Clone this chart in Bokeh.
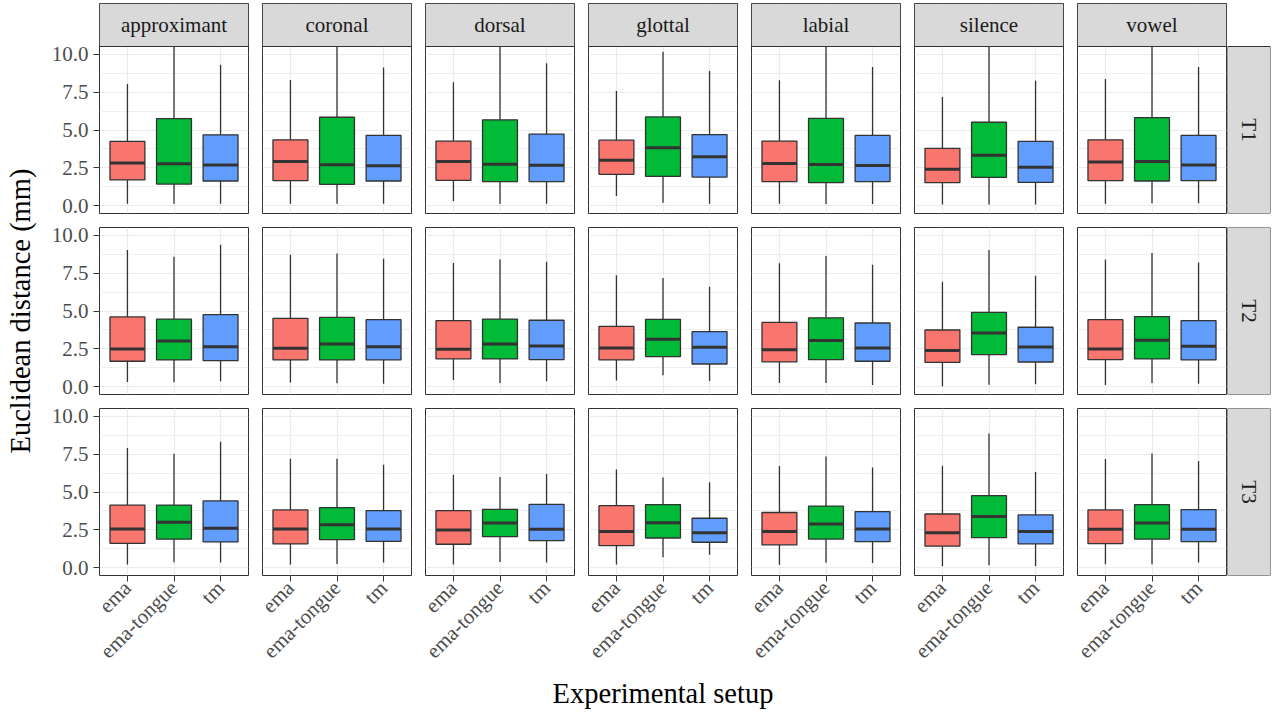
import numpy as np
from bokeh.plotting import figure
from bokeh.layouts import gridplot, row, column
from bokeh.models import Range1d, FixedTicker, NumeralTickFormatter, ColumnDataSource
from bokeh.core.properties import value
from bokeh.embed import file_html
from bokeh.resources import INLINE

# ---------------- data ----------------
places = ["approximant", "coronal", "dorsal", "glottal", "labial", "silence", "vowel"]
setups = ["ema", "ema-tongue", "tm"]
trials = ["T1", "T2", "T3"]
colors = ["#F8766D", "#00BA38", "#619CFF"]
y_title = "Euclidean distance (mm)"
x_title = "Experimental setup"

# each list: 7 places x (ema, ema-tongue, tm)
t1_lower = [0.15, 0.15, 0.15,  0.15, 0.15, 0.15,  0.33, 0.15, 0.15,  0.66, 0.20, 0.15,
            0.14, 0.12, 0.12,  0.09, 0.09, 0.09,  0.15, 0.17, 0.17]
t1_q1 = [1.71, 1.44, 1.64,  1.66, 1.42, 1.64,  1.68, 1.60, 1.60,  2.08, 1.95, 1.90,
         1.60, 1.54, 1.60,  1.53, 1.88, 1.55,  1.66, 1.64, 1.66]
t1_median = [2.82, 2.78, 2.69,  2.93, 2.71, 2.65,  2.93, 2.74, 2.67,  3.00, 3.83, 3.24,
             2.79, 2.72, 2.66,  2.41, 3.33, 2.54,  2.89, 2.93, 2.69]
t1_q3 = [4.25, 5.75, 4.68,  4.35, 5.84, 4.64,  4.27, 5.67, 4.73,  4.33, 5.86, 4.70,
         4.27, 5.77, 4.64,  3.79, 5.51, 4.25,  4.35, 5.82, 4.64]
t1_upper = [8.03, 10.8, 9.30,  8.29, 10.8, 9.12,  8.14, 10.8, 9.39,  7.57, 10.15, 8.88,
            8.28, 10.8, 9.15,  7.18, 10.8, 8.25,  8.36, 10.8, 9.15]

t2_lower = [0.33, 0.31, 0.37,  0.29, 0.24, 0.20,  0.46, 0.26, 0.37,  0.42, 0.77, 0.39,
            0.25, 0.25, 0.13,  0.04, 0.15, 0.18,  0.13, 0.26, 0.20]
t2_q1 = [1.69, 1.78, 1.73,  1.78, 1.78, 1.78,  1.84, 1.84, 1.80,  1.78, 2.00, 1.51,
         1.65, 1.80, 1.69,  1.62, 2.13, 1.64,  1.80, 1.84, 1.78]
t2_median = [2.50, 3.03, 2.65,  2.54, 2.83, 2.65,  2.48, 2.83, 2.70,  2.57, 3.14, 2.61,
             2.45, 3.06, 2.56,  2.39, 3.55, 2.63,  2.50, 3.07, 2.68]
t2_q3 = [4.61, 4.47, 4.76,  4.52, 4.58, 4.43,  4.36, 4.47, 4.39,  3.99, 4.45, 3.64,
         4.25, 4.55, 4.21,  3.75, 4.91, 3.93,  4.43, 4.63, 4.36]
t2_upper = [9.01, 8.57, 9.36,  8.71, 8.79, 8.44,  8.16, 8.40, 8.25,  7.35, 7.17, 6.60,
            8.15, 8.63, 8.05,  6.93, 9.01, 7.32,  8.40, 8.82, 8.20]

t3_lower = [0.22, 0.37, 0.35,  0.22, 0.26, 0.35,  0.22, 0.39, 0.35,  0.22, 0.70, 0.86,
            0.21, 0.34, 0.32,  0.11, 0.18, 0.11,  0.24, 0.24, 0.35]
t3_q1 = [1.62, 1.89, 1.71,  1.58, 1.86, 1.75,  1.56, 2.06, 1.80,  1.47, 1.97, 1.69,
         1.52, 1.90, 1.73,  1.43, 2.00, 1.58,  1.60, 1.89, 1.73]
t3_median = [2.57, 3.00, 2.61,  2.57, 2.85, 2.57,  2.50, 2.96, 2.54,  2.39, 2.98, 2.32,
             2.39, 2.90, 2.56,  2.32, 3.38, 2.39,  2.54, 2.96, 2.54]
t3_q3 = [4.14, 4.14, 4.41,  3.82, 3.97, 3.77,  3.77, 3.86, 4.19,  4.10, 4.17, 3.27,
         3.65, 4.07, 3.71,  3.55, 4.76, 3.49,  3.82, 4.17, 3.84]
t3_upper = [7.89, 7.52, 8.31,  7.19, 7.19, 6.80,  6.14, 5.99, 6.18,  6.49, 5.96, 5.64,
            6.72, 7.34, 6.62,  6.73, 8.86, 6.32,  7.17, 7.54, 7.04]

y_ticks = [0, 2.5, 5, 7.5, 10]
y_minor = [1.25, 3.75, 6.25, 8.75]

stats = {
    "T1": (t1_lower, t1_q1, t1_median, t1_q3, t1_upper),
    "T2": (t2_lower, t2_q1, t2_median, t2_q3, t2_upper),
    "T3": (t3_lower, t3_q1, t3_median, t3_q3, t3_upper),
}

# ---------------- style / layout ----------------
FONT = "Liberation Serif"
FRAME_W, FRAME_H = 149, 167
GAP = 14
YLAB_W = 40
LEFT = 59
TOP = 3
BOTTOM = 104
XLAB_H = 32
STRIP = 43
BOX_W = 0.75
Y0, Y1 = -0.5, 10.5
DARK = "#333333"
GRIDC = "#EBEBEB"
STRIP_FILL = "#D9D9D9"
TITLE_SIZE = "28.5px"
SMALL_SIZE = "21px"

px_per_unit = FRAME_H / (Y1 - Y0)
strip_units = STRIP / px_per_unit


def borders(r, c):
    left = LEFT if c == 0 else GAP - 1
    right = 1
    top = TOP if r == 0 else GAP // 2
    bottom = BOTTOM if r == 2 else GAP - GAP // 2
    return left, right, top, bottom


def style_axis(ax):
    ax.axis_line_color = None
    ax.minor_tick_line_color = None
    ax.major_tick_in = 0
    ax.major_tick_out = 6
    ax.major_tick_line_color = DARK
    ax.major_label_text_font = FONT
    ax.major_label_text_font_size = SMALL_SIZE
    ax.major_label_text_color = "#4D4D4D"


def y_end_of(r):
    return Y1 + (strip_units if r == 0 else 0)


def frame_h_of(r):
    return FRAME_H + (STRIP if r == 0 else 0)


def make_panel(r, c):
    left, right, top, bottom = borders(r, c)
    y_end = y_end_of(r)
    p = figure(width=left + FRAME_W + right, height=top + frame_h_of(r) + bottom,
               x_range=Range1d(0.4, 3.6), y_range=Range1d(Y0, y_end),
               output_backend="svg", toolbar_location=None,
               x_axis_location="below" if r == 2 else None,
               y_axis_location="left" if c == 0 else None,
               min_border_left=left, min_border_right=right,
               min_border_top=top, min_border_bottom=bottom)
    p.outline_line_color = DARK
    p.outline_line_width = 1
    p.background_fill_color = "white"
    p.border_fill_color = "white"

    p.xgrid.ticker = FixedTicker(ticks=[1, 2, 3])
    p.ygrid.ticker = FixedTicker(ticks=y_ticks, minor_ticks=y_minor)
    p.xgrid.grid_line_color = GRIDC
    p.xgrid.grid_line_width = 1.2
    p.ygrid.grid_line_color = GRIDC
    p.ygrid.grid_line_width = 1.2
    p.ygrid.minor_grid_line_color = GRIDC
    p.ygrid.minor_grid_line_width = 0.8

    if c == 0:
        ax = p.yaxis[0]
        ax.ticker = FixedTicker(ticks=y_ticks, minor_ticks=y_minor)
        ax.formatter = NumeralTickFormatter(format="0.0")
        style_axis(ax)
        ax.major_label_standoff = 5
    if r == 2:
        ax = p.xaxis[0]
        ax.ticker = FixedTicker(ticks=[1, 2, 3])
        ax.major_label_overrides = {1: setups[0], 2: setups[1], 3: setups[2]}
        ax.major_label_orientation = np.pi / 4
        style_axis(ax)
        ax.major_label_standoff = 3

    lo, q1, med, q3, hi = stats[trials[r]]
    sl = slice(3 * c, 3 * c + 3)
    x = np.array([1.0, 2.0, 3.0])
    src = ColumnDataSource(dict(
        x=x, lo=lo[sl], q1=q1[sl], med=med[sl], q3=q3[sl], hi=hi[sl],
        x0=x - BOX_W / 2, x1=x + BOX_W / 2, color=colors,
    ))
    p.segment(x0="x", x1="x", y0="q3", y1="hi", source=src, line_color=DARK, line_width=1.3)
    p.segment(x0="x", x1="x", y0="lo", y1="q1", source=src, line_color=DARK, line_width=1.3)
    p.vbar(x="x", width=BOX_W, bottom="q1", top="q3", source=src,
           fill_color="color", line_color=DARK, line_width=1.3)
    p.segment(x0="x0", x1="x1", y0="med", y1="med", source=src, line_color=DARK, line_width=3)

    if r == 0:
        # facet strip (column label) on top of the panel
        p.quad(left=[0.4], right=[3.6], bottom=[Y1], top=[y_end],
               fill_color=STRIP_FILL, line_color=DARK, line_width=1)
        p.text(x=[2.0], y=[Y1 + strip_units / 2], text=[places[c]],
               text_align="center", text_baseline="middle",
               text_font=value(FONT), text_font_size=SMALL_SIZE, text_color="#1A1A1A")
    return p


def make_row_strip(r):
    _, _, top, bottom = borders(r, 0)
    s = figure(width=STRIP + 1, height=top + frame_h_of(r) + bottom,
               x_range=Range1d(0, 1), y_range=Range1d(Y0, y_end_of(r)),
               output_backend="svg", toolbar_location=None,
               x_axis_location=None, y_axis_location=None,
               min_border_left=0, min_border_right=1,
               min_border_top=top, min_border_bottom=bottom)
    s.grid.visible = False
    s.background_fill_color = "white"
    s.border_fill_color = "white"
    s.outline_line_color = None
    s.quad(left=[0], right=[1], bottom=[Y0], top=[Y1],
           fill_color=STRIP_FILL, line_color=DARK, line_width=1)
    s.text(x=[0.5], y=[(Y0 + Y1) / 2], text=[trials[r]], text_align="center",
           text_baseline="middle", angle=-np.pi / 2,
           text_font=value(FONT), text_font_size=SMALL_SIZE, text_color="#1A1A1A")
    return s


rows_layout = []
for r in range(len(trials)):
    rw = [make_panel(r, c) for c in range(len(places))]
    rw.append(make_row_strip(r))
    rows_layout.append(rw)

grid = gridplot(rows_layout, toolbar_location=None)

# heights of the grid rows
row_h = []
for r in range(len(trials)):
    _, _, top, bottom = borders(r, 0)
    row_h.append(top + frame_h_of(r) + bottom)
grid_h = sum(row_h)
grid_w = (LEFT + FRAME_W + 1) + 6 * (GAP - 1 + FRAME_W + 1) + STRIP + 1

# y-axis title
ylab = figure(width=YLAB_W, height=grid_h, x_range=Range1d(0, YLAB_W), y_range=Range1d(0, grid_h),
              output_backend="svg", toolbar_location=None,
              x_axis_location=None, y_axis_location=None,
              min_border_left=0, min_border_right=0, min_border_top=0, min_border_bottom=0)
ylab.grid.visible = False
ylab.outline_line_color = None
_, _, t1top, _ = borders(1, 0)
mid_y = grid_h - (row_h[0] + t1top + FRAME_H / 2)
ylab.text(x=[YLAB_W / 2], y=[mid_y], text=[y_title], angle=np.pi / 2,
          text_align="center", text_baseline="middle",
          text_font=value(FONT), text_font_size=TITLE_SIZE, text_color="black")

# x-axis title
total_w = YLAB_W + grid_w
xlab = figure(width=total_w, height=XLAB_H, x_range=Range1d(0, total_w), y_range=Range1d(0, XLAB_H),
              output_backend="svg", toolbar_location=None,
              x_axis_location=None, y_axis_location=None,
              min_border_left=0, min_border_right=0, min_border_top=0, min_border_bottom=0)
xlab.grid.visible = False
xlab.outline_line_color = None
panels_w = 7 * FRAME_W + 6 * GAP
xlab.text(x=[YLAB_W + LEFT + panels_w / 2], y=[XLAB_H / 2 + 2], text=[x_title],
          text_align="center", text_baseline="middle",
          text_font=value(FONT), text_font_size=TITLE_SIZE, text_color="black")

page = column(row(ylab, grid), xlab)

open("out.html", "w").write(file_html(page, INLINE))
